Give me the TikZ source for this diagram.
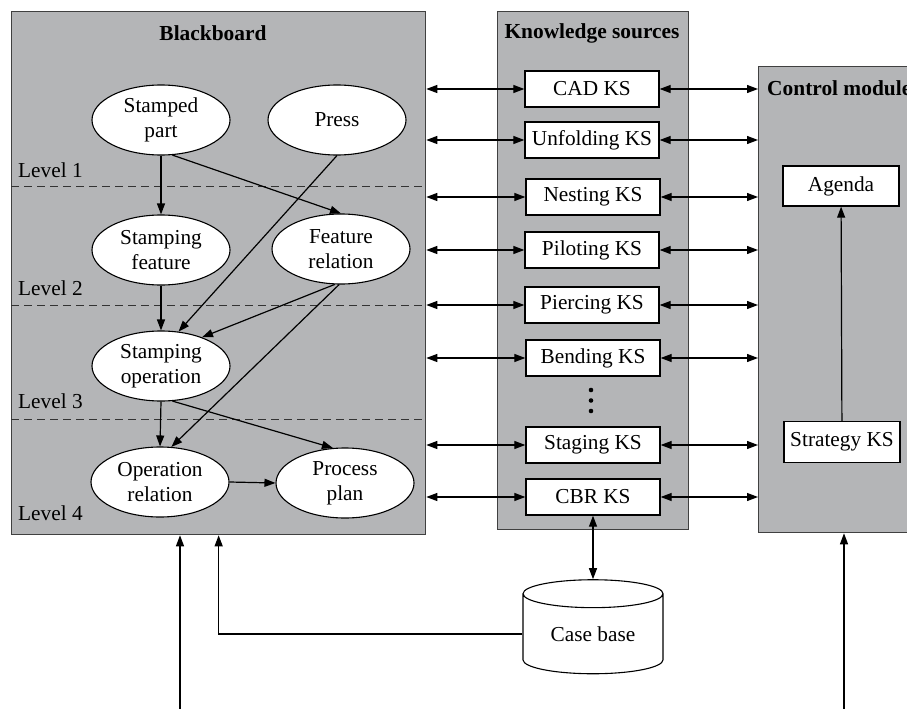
\documentclass[tikz,border=0pt]{standalone}
\usepackage{fontspec}
\setmainfont{Liberation Serif}
\usetikzlibrary{arrows.meta,shapes.geometric}
\definecolor{panelgray}{RGB}{180,181,183}
\tikzset{
  panel/.style={draw=black!75, fill=panelgray, line width=1.3pt, inner sep=0pt},
  bubble/.style={ellipse, draw, fill=white, line width=1.1pt, minimum width=138pt, minimum height=70pt, inner sep=0pt, align=center},
  ksbox/.style={draw, fill=white, line width=1.3pt, minimum width=134pt, minimum height=36pt, inner sep=0pt},
  ctrlbox/.style={draw, fill=white, line width=1.3pt, minimum width=116pt, minimum height=40pt, inner sep=0pt},
  paneltitle/.style={font=\fontsize{21.4}{25}\selectfont\bfseries},
  levelline/.style={dash pattern=on 8pt off 5pt, line width=1pt, black!80},
  levellabel/.style={anchor=west, inner sep=0pt},
  link/.style={line width=1.2pt, -{Triangle[length=11pt,width=8pt]}},
  twoway/.style={line width=1.2pt, {Triangle[length=11pt,width=8pt]}-{Triangle[length=11pt,width=8pt]}}
}
\begin{document}
\begin{tikzpicture}[x=1pt, y=-1pt, font=\fontsize{21.3}{25}\selectfont]
        \useasboundingbox (0,0) rectangle (907,709);
        \node[panel, anchor=north west, minimum width=414pt, minimum height=523pt] (bb) at (11,11) {};
        \node[panel, anchor=north west, minimum width=191pt, minimum height=518pt] (ks) at (497,11) {};
        \node[panel, anchor=north west, minimum width=180pt, minimum height=466pt] (cm) at (758,66) {};
        \node[paneltitle] (bbtitle) at (213,33) {Blackboard};
        \node[paneltitle] (kstitle) at (592,33) {Knowledge sources};
        \node[paneltitle, anchor=west, inner sep=0pt] (cmtitle) at (767,88) {Control module};

        \draw[levelline] (11,186) -- (425,186);
        \draw[levelline] (11,305) -- (425,305);
        \draw[levelline] (11,419) -- (425,419);
        \node[levellabel] (lvone) at (18,170) {Level 1};
        \node[levellabel] (lvtwo) at (18,288) {Level 2};
        \node[levellabel] (lvthree) at (18,401) {Level 3};
        \node[levellabel] (lvfour) at (18,513) {Level 4};

        \node[bubble] (part) at (161,120) {Stamped\\part};
        \node[bubble] (press) at (337,120) {Press};
        \node[bubble] (feat) at (161,250) {Stamping\\feature};
        \node[bubble] (featrel) at (341,249) {Feature\\relation};
        \node[bubble] (oper) at (161,366) {Stamping\\operation};
        \node[bubble] (operrel) at (160,482) {Operation\\relation};
        \node[bubble] (plan) at (345,483) {Process\\plan};
        \draw[link] (part.south) -- (feat.north);
        \draw[link] (part.-72) -- (featrel.north);
        \draw[link] (press.south) -- (oper.63);
        \draw[link] (feat.south) -- (oper.north);
        \draw[link] (featrel.-100) -- (oper.35);
        \draw[link] (featrel.-93) -- (operrel.72);
        \draw[link] (oper.south) -- (operrel.north);
        \draw[link] (oper.-72) -- (plan.109);
        \draw[link] (operrel.east) -- (plan.west);

        \node[ksbox] (cad) at (592,89) {CAD KS};
        \node[ksbox] (unfold) at (592,140) {Unfolding KS};
        \node[ksbox] (nest) at (593,197) {Nesting KS};
        \node[ksbox] (pilot) at (592,250) {Piloting KS};
        \node[ksbox] (pierce) at (592,305) {Piercing KS};
        \node[ksbox] (bend) at (593,358) {Bending KS};
        \node[ksbox] (stage) at (593,445) {Staging KS};
        \node[ksbox] (cbr) at (593,497) {CBR KS};
        \fill (591,390) circle (2.3pt) (591,400.5) circle (2.3pt) (591,411) circle (2.3pt);

        \draw[twoway] (bb.east |- cad) -- (cad.west);
        \draw[twoway] (bb.east |- unfold) -- (unfold.west);
        \draw[twoway] (bb.east |- nest) -- (nest.west);
        \draw[twoway] (bb.east |- pilot) -- (pilot.west);
        \draw[twoway] (bb.east |- pierce) -- (pierce.west);
        \draw[twoway] (bb.east |- bend) -- (bend.west);
        \draw[twoway] (bb.east |- stage) -- (stage.west);
        \draw[twoway] (bb.east |- cbr) -- (cbr.west);
        \draw[twoway] (cad.east) -- (cm.west |- cad);
        \draw[twoway] (unfold.east) -- (cm.west |- unfold);
        \draw[twoway] (nest.east) -- (cm.west |- nest);
        \draw[twoway] (pilot.east) -- (cm.west |- pilot);
        \draw[twoway] (pierce.east) -- (cm.west |- pierce);
        \draw[twoway] (bend.east) -- (cm.west |- bend);
        \draw[twoway] (stage.east) -- (cm.west |- stage);
        \draw[twoway] (cbr.east) -- (cm.west |- cbr);

        \node[ctrlbox] (agenda) at (841,186) {Agenda};
        \node[ctrlbox, minimum height=41pt] (strategy) at (842,442) {Strategy KS};
        \draw[link] (strategy) -- (agenda);

        \node[cylinder, shape border rotate=90, draw, fill=white, line width=1.1pt, minimum width=140pt, minimum height=94pt, aspect=0.33, inner sep=0pt] (casebase) at (593,634) {Case base};
        \draw[twoway] (cbr.south) -- (casebase.top);
        \draw[link] (casebase.west) -| (bb.south);

        \coordinate (userin) at (180,709);
        \coordinate (ctrlin) at (844,709);
        \draw[link] (userin) -- (userin |- bb.south);
        \draw[link] (ctrlin) -- (ctrlin |- cm.south);
    \end{tikzpicture}
\end{document}
